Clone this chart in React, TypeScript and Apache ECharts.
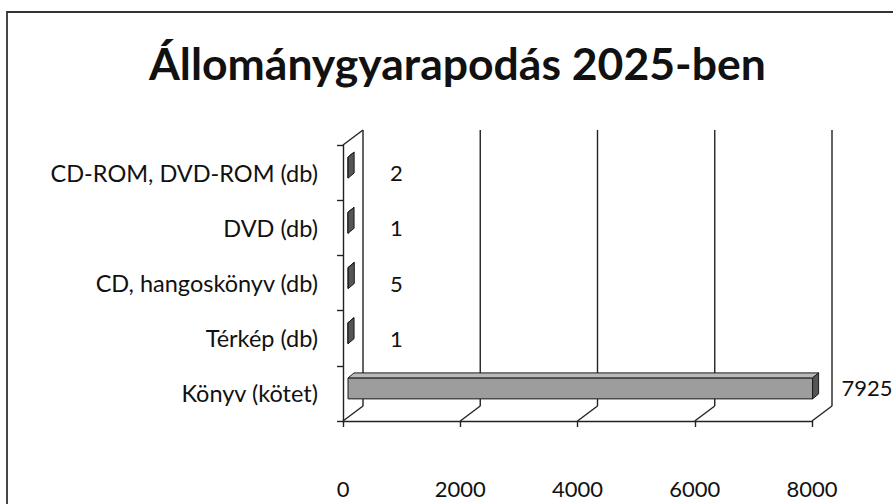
import React, { useEffect, useRef } from "react";
import * as echarts from "echarts";

const categories = [
  "Könyv (kötet)",
  "Térkép (db)",
  "CD, hangoskönyv (db)",
  "DVD (db)",
  "CD-ROM, DVD-ROM (db)",
];
const values = [7925, 1, 5, 1, 2];
const xTicks = [0, 2000, 4000, 6000, 8000];
const title = "Állománygyarapodás 2025-ben";

const FONT = "Lato, 'Open Sans', sans-serif";
const DX = 20; // depth offset of the back wall
const DY = -15;
const LINE = "#222";

export default function App() {
  const ref = useRef<HTMLDivElement>(null);

  useEffect(() => {
    document.body.style.margin = "0";
    if (!ref.current) return;
    const chart = echarts.init(ref.current, undefined, { renderer: "svg" });
    const xMax = xTicks[xTicks.length - 1];

    const option: any = {
      animation: false,
      backgroundColor: "#ffffff",
      title: {
        text: title,
        left: 144,
        top: 35,
        textStyle: { fontFamily: FONT, fontSize: 44.5, fontWeight: "bold", color: "#111" },
      },
      grid: { left: 343, right: 81, top: 145, bottom: 83 },
      xAxis: {
        type: "value",
        min: 0,
        max: xMax,
        interval: 2000,
        axisLine: { show: true, lineStyle: { color: LINE, width: 1.4 } },
        axisTick: { show: true, length: 6, lineStyle: { color: LINE, width: 1.4 } },
        splitLine: { show: false },
        axisLabel: {
          fontFamily: FONT,
          fontSize: 22,
          color: "#111",
          margin: 56,
          formatter: (v: number) => String(v),
        },
      },
      yAxis: {
        type: "category",
        data: categories,
        axisLine: { show: true, lineStyle: { color: LINE, width: 1.4 } },
        axisTick: { show: true, length: 6, lineStyle: { color: LINE, width: 1.4 } },
        splitLine: { show: false },
        axisLabel: { fontFamily: FONT, fontSize: 23.5, color: "#111", margin: 25 },
      },
      graphic: [
        {
          type: "rect",
          shape: { x: 7, y: 12, width: 900, height: 500 },
          style: { fill: "none", stroke: "#333", lineWidth: 1.8 },
          silent: true,
        },
      ],
      series: [
        {
          type: "custom",
          name: "walls",
          data: xTicks.map((v) => [v, 0]),
          encode: { x: 0, y: 1 },
          silent: true,
          renderItem: (params: any, api: any) => {
            const v = api.value(0);
            const cs = params.coordSys;
            const px = api.coord([v, 0])[0];
            const bottom = cs.y + cs.height;
            const top = cs.y;
            const style = { stroke: LINE, lineWidth: 1.4 };
            const children: any[] = [
              { type: "line", shape: { x1: px, y1: bottom, x2: px + DX, y2: bottom + DY }, style },
              { type: "line", shape: { x1: px + DX, y1: bottom + DY, x2: px + DX, y2: top + DY }, style },
            ];
            if (v === 0) {
              children.push({ type: "line", shape: { x1: px, y1: top, x2: px + DX, y2: top + DY }, style });
            }
            return { type: "group", children };
          },
        },
        {
          type: "custom",
          name: "Állománygyarapodás",
          data: values.map((v, i) => [v, i]),
          encode: { x: 0, y: 1 },
          renderItem: (params: any, api: any) => {
            const v = api.value(0);
            const i = api.value(1);
            const [x0, yc] = api.coord([0, i]);
            const x1 = api.coord([v, i])[0];
            const band = api.size([0, 1])[1];
            const t = band * 0.38;
            const ox = 5;
            const oy = -5;
            const bx = 6;
            const by = -5;
            const fx0 = x0 + ox;
            const fx1 = x1 + ox;
            const fy0 = yc + oy - t / 2;
            const fy1 = yc + oy + t / 2;
            const stroke = { stroke: "#1a1a1a", lineWidth: 1 };
            const big = v > xMax / 2;
            return {
              type: "group",
              children: [
                {
                  type: "rect",
                  shape: { x: fx0, y: fy0, width: fx1 - fx0, height: fy1 - fy0 },
                  style: { fill: "#9d9d9d", ...stroke },
                },
                {
                  type: "polygon",
                  shape: {
                    points: [
                      [fx0, fy0],
                      [fx1, fy0],
                      [fx1 + bx, fy0 + by],
                      [fx0 + bx, fy0 + by],
                    ],
                  },
                  style: { fill: "#b9b9b9", ...stroke },
                },
                {
                  type: "polygon",
                  shape: {
                    points: [
                      [fx1, fy0],
                      [fx1, fy1],
                      [fx1 + bx, fy1 + by],
                      [fx1 + bx, fy0 + by],
                    ],
                  },
                  style: { fill: "#555555", ...stroke },
                },
                {
                  type: "text",
                  style: {
                    text: String(v),
                    x: Math.max(x1 + 34, x0 + 47),
                    y: yc - (big ? 6 : 0),
                    fontFamily: FONT,
                    fontSize: 22,
                    fill: "#111",
                    align: "left",
                    verticalAlign: "middle",
                  },
                },
              ],
            };
          },
        },
      ],
    };

    chart.setOption(option);
    return () => chart.dispose();
  }, []);

  return <div ref={ref} style={{ width: 893, height: 504 }} />;
}
